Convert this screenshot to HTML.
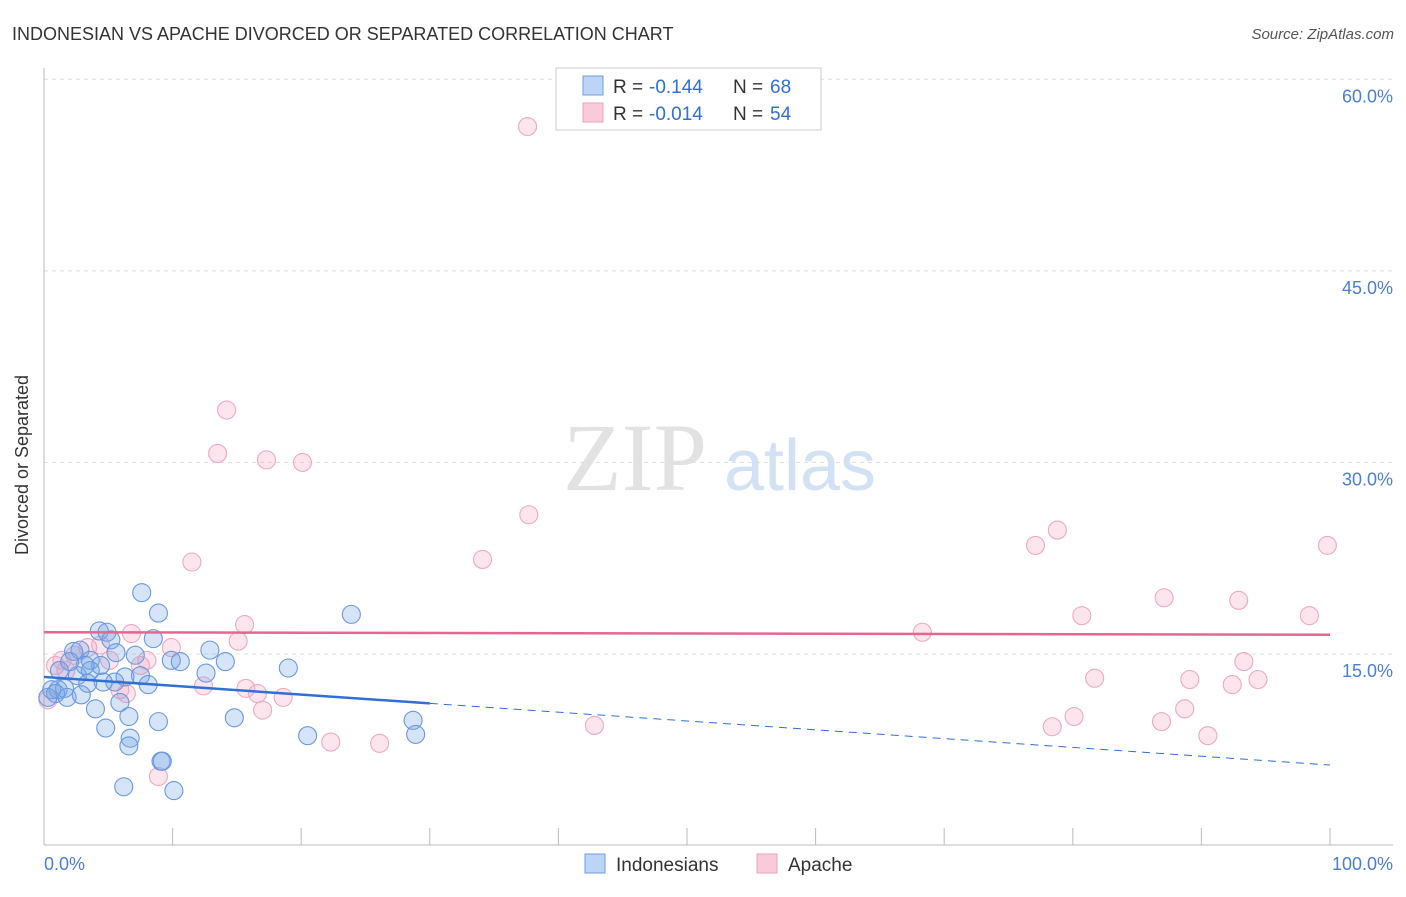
<!DOCTYPE html>
<html><head><meta charset="utf-8"><style>
body{margin:0;background:#fff;font-family:"Liberation Sans",sans-serif}
</style></head><body>
<svg width="1406" height="892" xmlns="http://www.w3.org/2000/svg" style="font-family:'Liberation Sans',sans-serif">
<text x="12" y="40" font-size="18" fill="#333">INDONESIAN VS APACHE DIVORCED OR SEPARATED CORRELATION CHART</text>
<text x="1394" y="39" font-size="15" fill="#555" font-style="italic" text-anchor="end">Source: ZipAtlas.com</text>
<g>
<text x="635" y="490" font-size="96" fill="#e2e2e2" font-family="Liberation Serif" text-anchor="middle">ZIP</text>
<text x="800" y="490" font-size="72" fill="#d3e1f5" text-anchor="middle">atlas</text>
</g>
<g id="grid"></g>
<line x1="44" y1="68" x2="44" y2="845" stroke="#bbb"/>
<line x1="44" y1="845" x2="1393" y2="845" stroke="#bbb"/>
<g id="xticks"></g>
<text x="18" y="455" font-size="18" fill="#333" text-anchor="middle" transform="rotate(-90 28 455)">Divorced or Separated</text>
<text x="44" y="870" font-size="18" fill="#4a7fd4">0.0%</text>
<text x="1393" y="870" font-size="18" fill="#4a7fd4" text-anchor="end">100.0%</text>
<g id="pts"></g>
<g id="lines"></g>
<g>
<rect x="556" y="68" width="265" height="62" fill="#fff" stroke="#ccc"/>
<rect x="583" y="76" width="20" height="19" fill="#bcd4f6" stroke="#6f9de0"/>
<rect x="583" y="103" width="20" height="19" fill="#f9cbda" stroke="#e9a3bb"/>
<text x="613" y="93" font-size="19" fill="#333">R =</text>
<text x="649" y="93" font-size="19" fill="#2f6fd6">-0.144</text>
<text x="733" y="93" font-size="19" fill="#333">N =</text>
<text x="770" y="93" font-size="19" fill="#2f6fd6">68</text>
<text x="613" y="120" font-size="19" fill="#333">R =</text>
<text x="649" y="120" font-size="19" fill="#2f6fd6">-0.014</text>
<text x="733" y="120" font-size="19" fill="#333">N =</text>
<text x="770" y="120" font-size="19" fill="#2f6fd6">54</text>
</g>
<g>
<rect x="585" y="854" width="20" height="19" fill="#bcd4f6" stroke="#6f9de0"/>
<text x="616" y="871" font-size="19" fill="#333">Indonesians</text>
<rect x="757" y="854" width="20" height="19" fill="#f9cbda" stroke="#e9a3bb"/>
<text x="788" y="871" font-size="19" fill="#333">Apache</text>
</g>
</svg>
<script>
const yTicks=[15,30,45,60];
const xTickVals=[10,20,30,40,50,60,70,80,90,100];
const blueX=[7.6,8.9,23.9,4.3,4.9,5.2,8.5,12.9,2.3,2.8,5.6,9.9,10.6,14.1,19.0,12.6,3.6,4.4,1.2,3.6,2.6,7.5,6.3,5.5,4.6,8.1,3.4,0.6,1.1,1.6,0.9,1.8,2.9,5.9,4.0,6.6,8.9,14.8,28.7,4.8,6.7,6.6,20.5,28.9,9.1,9.2,6.2,10.1,0.3,2.0,3.2,7.1];
const blueY=[19.8,18.2,18.1,16.8,16.7,16.1,16.2,15.3,15.2,15.3,15.1,14.5,14.4,14.4,13.9,13.5,14.5,14.1,13.7,13.7,13.3,13.3,13.2,12.8,12.8,12.6,12.7,12.2,12.2,12.3,11.9,11.6,11.8,11.2,10.7,10.1,9.7,10.0,9.8,9.2,8.4,7.8,8.6,8.7,6.6,6.6,4.6,4.3,11.6,14.4,14.1,14.9];
const pinkX=[37.6,14.2,13.5,17.3,20.1,37.7,34.1,11.5,78.8,77.1,99.8,87.1,92.9,80.7,98.4,15.6,68.3,6.8,15.1,9.9,93.3,8.0,81.7,89.1,94.4,92.4,12.4,15.7,16.6,18.6,6.4,17.0,88.7,80.1,86.9,78.4,42.8,90.5,22.3,26.1,8.9,0.9,1.4,2.4,3.4,4.4,5.1,0.3,5.9,7.5,1.7];
const pinkY=[56.3,34.1,30.7,30.2,30.0,25.9,22.4,22.2,24.7,23.5,23.5,19.4,19.2,18.0,18.0,17.3,16.7,16.6,16.0,15.5,14.4,14.5,13.1,13.0,13.0,12.6,12.5,12.3,11.9,11.6,11.9,10.6,10.7,10.1,9.7,9.3,9.4,8.6,8.1,8.0,5.4,14.1,14.5,14.9,15.5,15.7,14.5,11.4,12.2,14.1,13.7];
const blueTrend=[13.2,6.3]; const blueSolidEnd=30;
const pinkTrend=[16.7,16.5];
const NS="http://www.w3.org/2000/svg";
const X=v=>44+v*12.86, Y=v=>845.5-v*12.77;
function mk(t,a,p){const e=document.createElementNS(NS,t);for(const k in a)e.setAttribute(k,a[k]);p.appendChild(e);return e;}
const grid=document.getElementById('grid');
yTicks.forEach(t=>{
 const l=mk('line',{x1:44,x2:1393,y1:Y(t),y2:Y(t),stroke:'#ddd','stroke-dasharray':'4,4'},grid);
 
 
 const tx=mk('text',{x:1393,y:Y(t)+23,'font-size':18,fill:'#4a7fd4','text-anchor':'end'},grid);
 tx.textContent=t.toFixed(1)+'%';
 
 
});
const xt=document.getElementById('xticks');
xTickVals.forEach(t=>{
 const l=mk('line',{x1:X(t),x2:X(t),y1:828,y2:845,stroke:'#bbb'},xt);
 
 
});
const pts=document.getElementById('pts');
pinkX.forEach((v,i)=>{
 const c=mk('circle',{cx:X(v),cy:Y(pinkY[i]),r:9,fill:'rgba(243,160,190,0.28)',stroke:'#eca9c0','stroke-width':1.1},pts);
 
 
});
blueX.forEach((v,i)=>{
 const c=mk('circle',{cx:X(v),cy:Y(blueY[i]),r:9,fill:'rgba(120,165,230,0.3)',stroke:'#6a98de','stroke-width':1.1},pts);
 
 
});
const ln=document.getElementById('lines');
const by=x=>blueTrend[0]+(blueTrend[1]-blueTrend[0])*x/100;
const b1=mk('line',{x1:X(0),y1:Y(by(0)),x2:X(blueSolidEnd),y2:Y(by(blueSolidEnd)),stroke:'#2f6fd6','stroke-width':2.5},ln);


const b2=mk('line',{x1:X(blueSolidEnd),y1:Y(by(blueSolidEnd)),x2:X(100),y2:Y(by(100)),stroke:'#2f6fd6','stroke-width':1,'stroke-dasharray':'8,6'},ln);


const p1=mk('line',{x1:X(0),y1:Y(pinkTrend[0]),x2:X(100),y2:Y(pinkTrend[1]),stroke:'#e5678f','stroke-width':2.5},ln);


</script>
</body></html>
